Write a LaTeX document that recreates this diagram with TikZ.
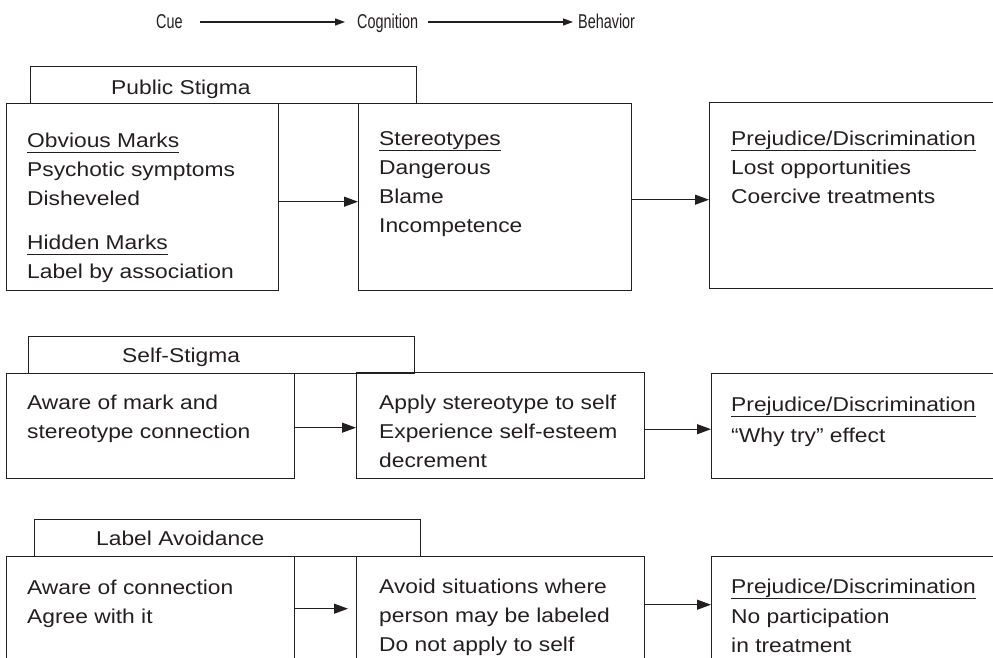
\documentclass[tikz,border=0pt]{standalone}
\usepackage{fontspec}
\setmainfont[FakeStretch=1.14]{Liberation Sans}
\newfontfamily\cuefont[FakeStretch=0.72]{Liberation Sans}
\usetikzlibrary{arrows.meta, positioning}
\definecolor{ink}{HTML}{231F20}
\newcommand{\hdline}[1]{\setbox0\hbox{#1}\rlap{\rule[-5.5pt]{\wd0}{1pt}}\box0}

\begin{document}
\begin{tikzpicture}[
  x=1pt, y=-1pt,
  every node/.style={font=\fontsize{20}{29}\selectfont, text=ink, inner sep=0pt},
  box/.style={draw=ink, line width=1.4pt, anchor=north west},
  titlebox/.style={box, minimum width=386pt, minimum height=37pt},
  txt/.style={anchor=base west, align=left},
  cue/.style={anchor=base west, font=\cuefont\fontsize{20}{24}\selectfont},
  flow/.style={draw=ink, line width=1.1pt, -{Triangle[length=14pt, width=10pt]}},
  topflow/.style={draw=ink, line width=1.1pt, -{Triangle[length=10pt, width=7pt]}}
]
\useasboundingbox (0,0) rectangle (993,658);
\clip (0,0) rectangle (993,658);
% header row
\node[cue] (cue) at (156,29) {Cue};
\node[cue] (cog) at (357,29) {Cognition};
\node[cue] (beh) at (578,29) {Behavior};
\draw[topflow, shorten <=17pt, shorten >=12pt] ([yshift=7pt]cue.base east) -- ([yshift=7pt]cog.base west);
\draw[topflow, shorten <=10pt, shorten >=5pt] ([yshift=7pt]cog.base east) -- ([yshift=7pt]beh.base west);
% public stigma (text nodes sit on their last line)
\node[titlebox] (pub) at (30,66) {};
\node[txt] (pub-t) at (111,95) {Public Stigma};
\node[box, minimum width=272pt, minimum height=187pt] (pub-cue) at (6,103) {};
\node[box, minimum width=273pt, minimum height=187pt] (pub-cog) at (358,103) {};
\node[box, minimum width=291pt, minimum height=186pt] (pub-beh) at (709,102) {};
\node[txt] (pub-cue-t) at (27,278) {\hdline{Obvious Marks}\\ Psychotic symptoms\\ Disheveled\\[15pt]
  \hdline{Hidden Marks}\\ Label by association};
\node[txt] (pub-cog-t) at (379,232) {\hdline{Stereotypes}\\ Dangerous\\ Blame\\ Incompetence};
\node[txt] (pub-beh-t) at (731,203) {\hdline{Prejudice/Discrimination}\\ Lost opportunities\\ Coercive treatments};
\draw[flow] ([yshift=-4.5pt]pub-cue.east) -- ([yshift=-4.5pt]pub-cue.east -| pub-cog.west);
\draw[flow] ([yshift=-2.5pt]pub-cog.east) -- ([yshift=-2.5pt]pub-cog.east -| pub-beh.west);
% self-stigma
\node[titlebox] (self) at (28,336) {};
\node[txt] (self-t) at (122,362) {Self-Stigma};
\node[box, minimum width=288pt, minimum height=105pt] (self-cue) at (6,373) {};
\node[box, minimum width=288pt, minimum height=106pt] (self-cog) at (356,372) {};
\node[box, minimum width=289pt, minimum height=105pt] (self-beh) at (711,373) {};
\node[txt] (self-cue-t) at (27,438) {Aware of mark and\\ stereotype connection};
\node[txt] (self-cog-t) at (379,467) {Apply stereotype to self\\ Experience self-esteem\\ decrement};
\node[txt] (self-beh-t) at (731,442) {\hdline{Prejudice/Discrimination}\\[2pt] “Why try” effect};
\draw[flow] ([yshift=-1.5pt]self-cue.east) -- ([yshift=-1.5pt]self-cue.east -| self-cog.west);
\draw[flow] ([yshift=-3.5pt]self-cog.east) -- ([yshift=-3.5pt]self-cog.east -| self-beh.west);
% label avoidance
\node[titlebox] (avoid) at (34,519) {};
\node[txt] (avoid-t) at (96,545) {Label Avoidance};
\node[box, minimum width=288pt, minimum height=106pt] (avoid-cue) at (6,556) {};
\node[box, minimum width=288pt, minimum height=106pt] (avoid-cog) at (356,556) {};
\node[box, minimum width=289pt, minimum height=106pt] (avoid-beh) at (711,556) {};
\node[txt] (avoid-cue-t) at (27,623) {Aware of connection\\ Agree with it};
\node[txt] (avoid-cog-t) at (379,651) {Avoid situations where\\ person may be labeled\\ Do not apply to self};
\node[txt] (avoid-beh-t) at (731,652) {\hdline{Prejudice/Discrimination}\\[1pt] No participation\\ in treatment};
\draw[flow, shorten >=8pt] ([yshift=1pt]avoid-cue.east) -- ([yshift=1pt]avoid-cue.east -| avoid-cog.west);
\draw[flow] ([yshift=5pt]avoid-cog.east) -- ([yshift=5pt]avoid-cog.east -| avoid-beh.west);
\end{tikzpicture}
\end{document}
